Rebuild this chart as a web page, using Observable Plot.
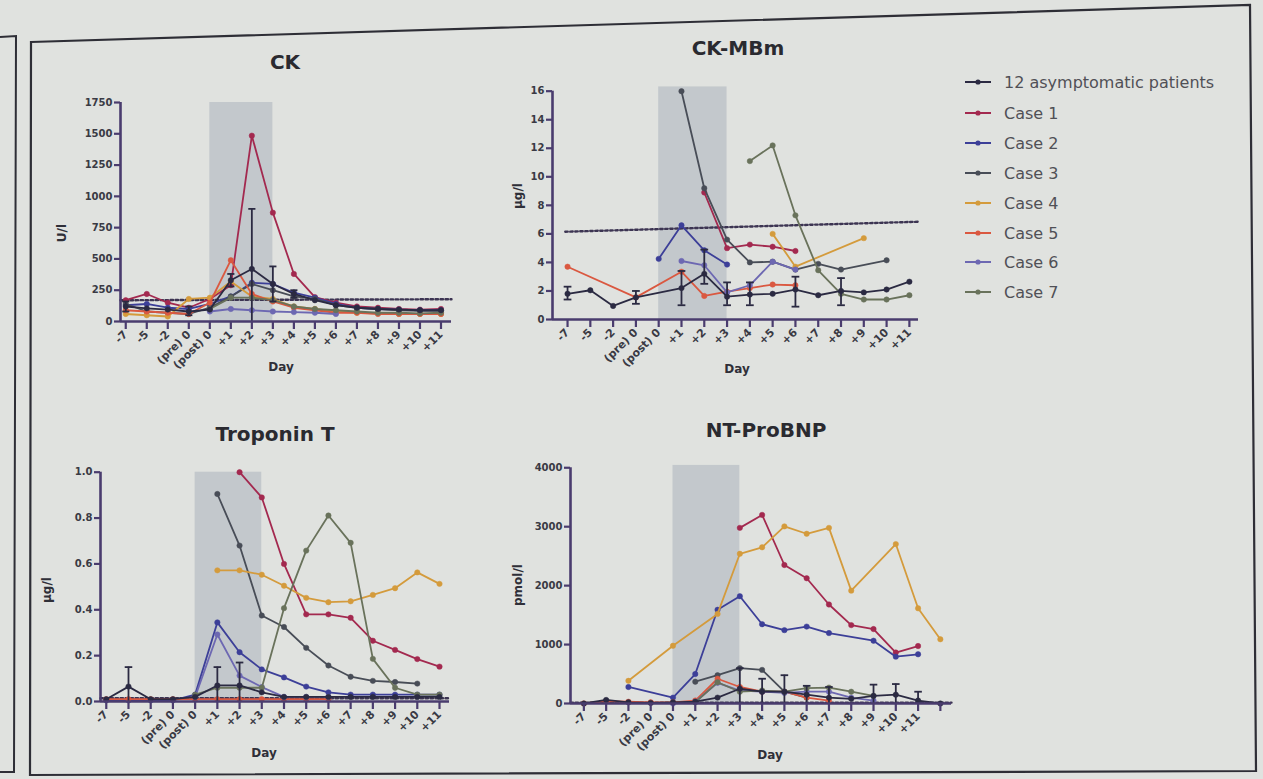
<!DOCTYPE html>
<html>
<head>
<meta charset="utf-8">
<script src="https://cdn.jsdelivr.net/npm/d3@7"></script>
<script src="https://cdn.jsdelivr.net/npm/@observablehq/plot@0.6"></script>
<style>
  html, body { margin: 0; padding: 0; background: #e0e2df; }
  #wrap { position: relative; width: 1263px; height: 779px; overflow: hidden; background: #e0e2df; font-family: "DejaVu Sans", "Liberation Sans", sans-serif; }
  .abs { position: absolute; }
  .title { font-weight: bold; font-size: 20px; color: #2a2a30; transform: translate(-50%, -50%); white-space: nowrap; }
  .ylab { font-weight: bold; font-size: 12px; color: #2f2f38; transform: translate(-50%, -50%) rotate(-90deg); white-space: nowrap; }
  .xlab { font-weight: bold; font-size: 12px; color: #2f2f38; transform: translate(-50%, -50%); }
  .leg { font-size: 16px; color: #505056; white-space: nowrap; }
</style>
</head>
<body>
<div id="wrap"></div>
<script>
// ---------- categories ----------
const days = ["-7", "-5", "-2", "(pre) 0", "(post) 0", "+1", "+2", "+3", "+4", "+5", "+6", "+7", "+8", "+9", "+10", "+11"];
const daysNT = [...days, ""];
const seriesNames = ["12 asymptomatic patients", "Case 1", "Case 2", "Case 3", "Case 4", "Case 5", "Case 6", "Case 7"];
const seriesColors = ["#2b2a42", "#a3294f", "#3c3f98", "#484d57", "#d49b3c", "#da5840", "#6d68b2", "#69725b"];
const shadeDays = [4, 7]; // (post) 0 .. +3

// ---------- CK (U/l) ----------
const ck_asym   = [120, 105, 95, 80, 95, 330, 420, 300, 220, 170, 130, 110, 100, 95, 90, 90];
const ck_asymHi = [160, null, null, 120, null, 380, 900, 440, 250, null, null, null, null, null, null, null];
const ck_asymLo = [80, null, null, 50, null, 280, 0, 160, 190, null, null, null, null, null, null, null];
const ck_case1  = [170, 220, 150, 110, 180, 290, 1485, 870, 380, 195, 150, 120, 110, 100, 95, 100];
const ck_case2  = [130, 140, 110, 100, 140, 200, 310, 300, 230, 190, 140, 110, 100, 95, 90, 90];
const ck_case3  = [140, 80, 70, 60, 110, 200, 300, 250, 200, 180, 130, 110, 100, 90, 85, 85];
const ck_case4  = [60, 50, 40, 180, 190, 320, 200, 180, 120, 100, 80, 70, 65, 60, 60, 60];
const ck_case5  = [90, 80, 70, 60, 150, 490, 220, 160, 110, 90, 70, 70, 60, 60, 60, 60];
const ck_case6  = [null, null, null, null, 80, 100, 90, 80, 75, 70, 60, null, null, null, null, null];
const ck_case7  = [null, null, null, null, 100, 190, 190, 170, 120, 100, 90, 80, 70, 70, 65, 70];
const ck_ref    = [170, 178];
const ck_yTicks = [0, 250, 500, 750, 1000, 1250, 1500, 1750];

// ---------- CK-MBm (µg/l) ----------
const mb_asym   = [1.8, 2.05, 0.95, 1.55, null, 2.2, 3.2, 1.6, 1.75, 1.8, 2.1, 1.7, 2.0, 1.9, 2.1, 2.65];
const mb_asymHi = [2.3, null, null, 2.0, null, 3.4, 4.9, 2.6, 2.6, null, 3.0, null, 2.9, null, null, null];
const mb_asymLo = [1.4, null, null, 1.1, null, 1.0, 2.5, 1.0, 1.0, null, 0.9, null, 1.0, null, null, null];
const mb_case1  = [null, null, null, null, null, null, 8.9, 5.0, 5.25, 5.1, 4.8, null, null, null, null, null];
const mb_case2  = [null, null, null, null, 4.25, 6.6, 4.85, 3.85, null, null, null, null, null, null, null, null];
const mb_case3  = [null, null, null, null, null, 16, 9.2, 5.6, 4.0, 4.05, 3.5, 3.9, 3.5, null, 4.15, null];
const mb_case4  = [null, null, null, null, null, null, null, null, null, 6.0, 3.7, null, null, 5.7, null, null];
const mb_case5  = [3.7, null, null, 1.55, null, 3.35, 1.65, 1.95, 2.2, 2.45, 2.4, null, null, null, null, null];
const mb_case6  = [null, null, null, null, null, 4.1, 3.8, 1.9, 2.4, 4.05, 3.5, null, null, null, null, null];
const mb_case7  = [null, null, null, null, null, null, null, null, 11.1, 12.2, 7.3, 3.45, 1.8, 1.4, 1.4, 1.7];
const mb_ref    = [6.15, 6.85];
const mb_yTicks = [0, 2, 4, 6, 8, 10, 12, 14, 16];

// ---------- Troponin T (µg/l) ----------
const tn_asym   = [0.01, 0.065, 0.01, 0.01, 0.02, 0.07, 0.07, 0.04, 0.02, 0.02, 0.02, 0.02, 0.02, 0.02, 0.02, 0.02];
const tn_asymHi = [null, 0.15, null, null, null, 0.15, 0.17, null, null, null, null, null, null, null, null, null];
const tn_asymLo = [null, 0.0, null, null, null, 0.0, 0.0, null, null, null, null, null, null, null, null, null];
const tn_case1  = [null, null, null, null, null, null, 1.0, 0.89, 0.6, 0.38, 0.38, 0.365, 0.265, 0.225, 0.185, 0.152];
const tn_case2  = [0.005, 0.005, 0.005, 0.005, 0.03, 0.345, 0.215, 0.14, 0.105, 0.065, 0.04, 0.03, 0.03, 0.03, 0.03, 0.03];
const tn_case3  = [null, null, null, null, null, 0.905, 0.68, 0.375, 0.325, 0.234, 0.157, 0.108, 0.09, 0.085, 0.078, null];
const tn_case4  = [null, null, null, null, null, 0.572, 0.572, 0.553, 0.505, 0.452, 0.433, 0.437, 0.465, 0.494, 0.563, 0.513];
const tn_case5  = [0.01, 0.01, 0.01, 0.01, 0.01, 0.01, 0.01, 0.01, 0.01, 0.01, 0.01, null, null, null, null, null];
const tn_case6  = [null, null, null, null, 0.02, 0.292, 0.113, 0.063, 0.02, 0.02, 0.02, null, null, null, null, null];
const tn_case7  = [null, null, null, null, 0.03, 0.06, 0.06, 0.06, 0.407, 0.658, 0.811, 0.692, 0.186, 0.06, 0.03, 0.03];
const tn_ref    = [0.014, 0.014];
const tn_yTicks = [0, 0.2, 0.4, 0.6, 0.8, 1.0];

// ---------- NT-ProBNP (pmol/l) ----------
const nt_asym   = [0, 60, 20, 10, 20, 30, 100, 250, 200, 200, 150, 100, 80, 130, 150, 50, 0];
const nt_asymHi = [null, null, null, null, null, null, null, 600, 420, 480, 300, 280, null, 320, 330, 200, null];
const nt_asymLo = [null, null, null, null, null, null, null, 0, 0, 0, 0, 0, null, 0, 0, 0, null];
const nt_case1  = [null, null, null, null, null, null, null, 2980, 3200, 2350, 2125, 1680, 1330, 1263, 865, 975, null];
const nt_case2  = [null, null, 280, null, 100, 500, 1590, 1820, 1345, 1245, 1305, 1195, null, 1065, 795, 835, null];
const nt_case3  = [null, null, null, null, null, 370, 480, 600, 570, 200, 100, null, null, null, null, null, null];
const nt_case4  = [null, null, 385, null, 980, null, 1520, 2540, 2650, 3005, 2880, 2980, 1915, null, 2705, 1615, 1090];
const nt_case5  = [0, 40, 30, 20, 20, 50, 420, 280, 200, 200, 100, 50, null, null, null, null, null];
const nt_case6  = [null, null, null, null, 0, 30, 350, 220, 200, 180, 200, 200, 100, 50, null, null, null];
const nt_case7  = [null, null, null, null, null, 20, 360, 200, 220, 200, 260, 270, 200, 130, null, null, null];
const nt_ref    = [15, 15];
const nt_yTicks = [0, 1000, 2000, 3000, 4000];

// ---------- drawing ----------
const wrap = document.getElementById("wrap");
const AXIS = "#4a3c6e";
const FONT = "DejaVu Sans, Liberation Sans, sans-serif";

function rows(vals) {
  return vals.map((v, i) => ({i, v})).filter(d => d.v != null);
}

function panel(cfg) {
  const {labels, series, asymHi, asymLo, ref, yDomain, yTicks, yAxisTop, xMin, xMax,
         left, top, width, height, ml, mt, mb, mr, tickFmt} = cfg;
  const idx = labels.map((_, i) => i);
  const marks = [];
  marks.push(Plot.rect([{a: shadeDays[0], b: shadeDays[1]}], {x1: "a", x2: "b", y1: yDomain[0], y2: yDomain[1], fill: "#c3c8cc"}));
  marks.push(Plot.line([{x: cfg.refX[0], y: ref[0]}, {x: cfg.refX[1], y: ref[1]}], {x: "x", y: "y", stroke: "#3c3452", strokeWidth: 2.4, strokeDasharray: "2.5,2.5"}));
  const order = [1, 2, 3, 4, 5, 6, 7, 0];
  for (const k of order) {
    const r = rows(series[k]);
    marks.push(Plot.line(r, {x: "i", y: "v", stroke: seriesColors[k], strokeWidth: 1.8}));
    marks.push(Plot.dot(r, {x: "i", y: "v", r: 2.7, fill: seriesColors[k], stroke: seriesColors[k], strokeWidth: 0.5}));
  }
  const eb = asymHi.map((h, i) => ({i, hi: h, lo: asymLo[i]})).filter(d => d.hi != null);
  marks.push(Plot.ruleX(eb, {x: "i", y1: "lo", y2: "hi", stroke: seriesColors[0], strokeWidth: 1.8}));
  marks.push(Plot.link(eb, {x1: d => d.i - 0.17, x2: d => d.i + 0.17, y1: "hi", y2: "hi", stroke: seriesColors[0], strokeWidth: 1.8}));
  marks.push(Plot.link(eb.filter(d => d.lo > 0), {x1: d => d.i - 0.17, x2: d => d.i + 0.17, y1: "lo", y2: "lo", stroke: seriesColors[0], strokeWidth: 1.8}));
  marks.push(Plot.ruleX([xMin], {y1: 0, y2: yAxisTop, stroke: AXIS, strokeWidth: 2.6}));
  marks.push(Plot.ruleY([0], {x1: xMin, x2: xMax, stroke: AXIS, strokeWidth: 2.6}));
  marks.push(Plot.axisY({ticks: yTicks, tickFormat: tickFmt, tickSize: 6, tickPadding: 2, stroke: AXIS, strokeWidth: 2.2, fill: "#3a3a44", fontWeight: "bold", fontSize: 10, anchor: "left"}));
  marks.push(Plot.axisX({ticks: idx, tickFormat: i => labels[i], tickSize: 8, tickPadding: 3, tickRotate: -45, stroke: AXIS, strokeWidth: 2.2, fill: "#3a3a44", fontWeight: "bold", fontSize: 11, anchor: "bottom"}));

  const chart = Plot.plot({
    width, height, marginLeft: ml, marginTop: mt, marginBottom: mb, marginRight: mr,
    style: {background: "transparent", fontFamily: FONT, overflow: "visible"},
    x: {type: "linear", domain: [xMin, xMax]},
    y: {type: "linear", domain: yDomain},
    marks
  });
  chart.style.position = "absolute";
  chart.style.left = left + "px";
  chart.style.top = top + "px";
  wrap.appendChild(chart);
}

function label(cls, text, x, y) {
  const d = document.createElement("div");
  d.className = "abs " + cls;
  d.textContent = text;
  d.style.left = x + "px";
  d.style.top = y + "px";
  wrap.appendChild(d);
}

const frame = document.createElementNS("http://www.w3.org/2000/svg", "svg");
frame.setAttribute("width", 1263); frame.setAttribute("height", 779);
frame.style.position = "absolute"; frame.style.left = "0px"; frame.style.top = "0px";
frame.innerHTML = '<polygon points="31,42 1250,5 1256,771 30,775" fill="none" stroke="#2e2e36" stroke-width="2.2"/>' +
  '<polyline points="0,37 16,36 14,772 0,772" fill="none" stroke="#2e2e36" stroke-width="2"/>';
wrap.appendChild(frame);

const ckSeries = [ck_asym, ck_case1, ck_case2, ck_case3, ck_case4, ck_case5, ck_case6, ck_case7];
const mbSeries = [mb_asym, mb_case1, mb_case2, mb_case3, mb_case4, mb_case5, mb_case6, mb_case7];
const tnSeries = [tn_asym, tn_case1, tn_case2, tn_case3, tn_case4, tn_case5, tn_case6, tn_case7];
const ntSeries = [nt_asym, nt_case1, nt_case2, nt_case3, nt_case4, nt_case5, nt_case6, nt_case7];

panel({labels: days, series: ckSeries, asymHi: ck_asymHi, asymLo: ck_asymLo, ref: ck_ref, refX: [-0.25, 15.5],
  yDomain: [0, 1750], yTicks: ck_yTicks, yAxisTop: 1750, xMin: -0.25, xMax: 15.5,
  left: 40, top: 90, width: 421, height: 286, ml: 80, mt: 12, mb: 55, mr: 10, tickFmt: d => String(d)});

panel({labels: days, series: mbSeries, asymHi: mb_asymHi, asymLo: mb_asymLo, ref: mb_ref, refX: [-0.1, 15.4],
  yDomain: [0, 16.3], yTicks: mb_yTicks, yAxisTop: 16, xMin: -0.66, xMax: 15.4,
  left: 490, top: 70, width: 438, height: 304, ml: 62, mt: 16.4, mb: 55, mr: 10, tickFmt: d => String(d)});

panel({labels: days, series: tnSeries, asymHi: tn_asymHi, asymLo: tn_asymLo, ref: tn_ref, refX: [-0.26, 15.45],
  yDomain: [0, 1.0], yTicks: tn_yTicks, yAxisTop: 1.0, xMin: -0.26, xMax: 15.45,
  left: 30, top: 455, width: 429, height: 301, ml: 70, mt: 16.7, mb: 55, mr: 10, tickFmt: d => d.toFixed(1)});

panel({labels: daysNT, series: ntSeries, asymHi: nt_asymHi, asymLo: nt_asymLo, ref: nt_ref, refX: [-0.6, 16.5],
  yDomain: [0, 4040], yTicks: nt_yTicks, yAxisTop: 4000, xMin: -0.6, xMax: 16.5,
  left: 500, top: 450, width: 461, height: 308, ml: 70, mt: 14.9, mb: 55, mr: 10, tickFmt: d => String(d)});

label("title", "CK", 285, 62);
label("title", "CK-MBm", 738, 48);
label("title", "Troponin T", 275, 434);
label("title", "NT-ProBNP", 766, 430);
label("ylab", "U/l", 62, 233);
label("ylab", "µg/l", 518, 196);
label("ylab", "µg/l", 47, 590);
label("ylab", "pmol/l", 518, 585);
label("xlab", "Day", 281, 367);
label("xlab", "Day", 737, 369);
label("xlab", "Day", 264, 753);
label("xlab", "Day", 770, 755);

const legY = [82, 113, 143, 173, 203, 233, 262, 292];
seriesNames.forEach((name, k) => {
  const row = document.createElement("div");
  row.className = "abs leg";
  row.style.left = "964px";
  row.style.top = (legY[k] - 10) + "px";
  row.style.height = "20px";
  row.style.display = "flex";
  row.style.alignItems = "center";
  row.innerHTML = `<svg width="30" height="20" style="margin-right:10px"><line x1="1" y1="10" x2="27" y2="10" stroke="${seriesColors[k]}" stroke-width="2"/><circle cx="14" cy="10" r="2.6" fill="${seriesColors[k]}"/></svg><span>${name}</span>`;
  wrap.appendChild(row);
});
</script>
</body>
</html>
